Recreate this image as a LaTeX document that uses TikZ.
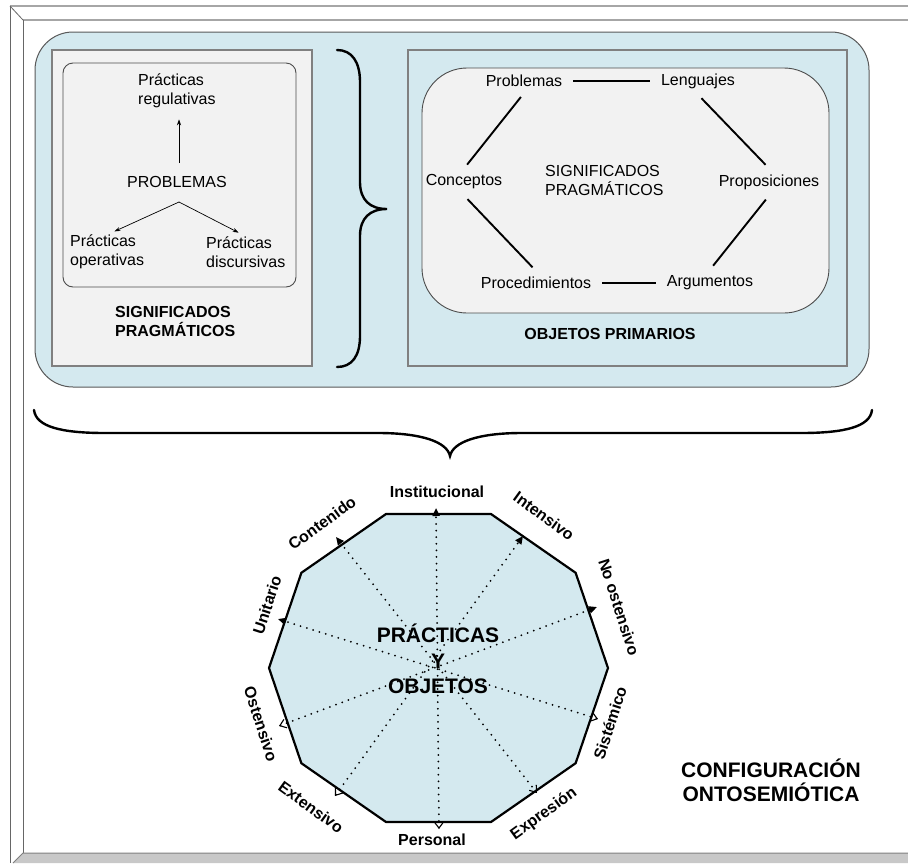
\documentclass[tikz,border=0pt]{standalone}
\usepackage{fontspec}
\setmainfont{Liberation Sans}
\usetikzlibrary{arrows.meta}
\definecolor{boxblue}{HTML}{D4E9EF}
\definecolor{boxgray}{HTML}{F2F2F2}
\definecolor{bandgray}{HTML}{C8C8C8}
\tikzset{
  fillv/.tip={Triangle[length=8pt,width=7pt]},
  openv/.tip={Straight Barb[length=6pt,width=9pt,line width=1.1pt]},
}
\begin{document}
\begin{tikzpicture}[x=1pt,y=-1pt,
  txt/.style={font=\fontsize{16}{19}\selectfont, inner sep=6pt},
  ltxt/.style={font=\fontsize{16}{19}\selectfont, align=left, inner sep=0pt},
  btxt/.style={font=\bfseries\fontsize{16}{19}\selectfont, align=left, inner sep=0pt},
  lbl/.style={font=\bfseries\fontsize{16}{19}\selectfont, inner sep=0pt},
  big/.style={font=\bfseries\fontsize{21}{25.5}\selectfont, align=center, inner sep=0pt},
  link/.style={line width=1.9pt, shorten <=5pt, shorten >=5pt},
  thinarrow/.style={-{Stealth[length=6pt,width=4pt]}, line width=0.7pt},
  ray/.style={line width=2pt, line cap=round, dash pattern=on 0pt off 6.6pt},
  bracestyle/.style={line width=2.4pt, line cap=round},
]
\useasboundingbox (0,0) rectangle (908,863);
% frame
\fill[white] (0,0) rectangle (908,863);
\draw[gray!70, line width=1.2pt] (908,6) -- (10,6);
\draw[gray!70, line width=1.2pt] (908,20) -- (23,20);
\draw[black!60, line width=1pt] (10,6) -- (10,863);
\draw[black!60, line width=1pt] (23,20) -- (23,853);
\draw[black!60, line width=0.8pt] (10,6) -- (23,20);
\fill[bandgray] (23,853) -- (908,853) -- (908,863) -- (13,863) -- cycle;
\draw[black!50, line width=1pt] (13,863) -- (23,853) -- (908,853);

% big blue panel
\draw[black!65, fill=boxblue, line width=1pt, rounded corners=38pt] (35,32) rectangle (869,387);

% left box
\draw[black!50, fill=boxgray, line width=1.2pt] (52,50) rectangle (312,366);
\draw[black!70, fill=boxgray, line width=0.9pt, rounded corners=10pt] (63,63) rectangle (296,287);
\node[ltxt, anchor=west] (reg) at (138,91) {Prácticas\\regulativas};
\node[ltxt] (probL) at (177,182) {PROBLEMAS};
\node[ltxt, anchor=west] (oper) at (70,252) {Prácticas\\operativas};
\node[ltxt, anchor=west] (disc) at (206,252) {Prácticas\\discursivas};
\coordinate (fork) at (179,202);
\draw[thinarrow] ([shift={(2,-13)}]probL.north) -- ([shift={(2,11)}]probL.north |- reg.south);
\draw[thinarrow, shorten >=8pt] (fork) -- (oper.north);
\draw[thinarrow, shorten >=8pt] (fork) -- (disc.north);
\node[btxt, anchor=west] (sigL) at (115,321) {SIGNIFICADOS\\PRAGMÁTICOS};

% brace between boxes
\draw[bracestyle] (337,50) .. controls (352,50) and (360,62) .. (360,82)
  -- (360,182) .. controls (360,200) and (370,209) .. (387,209)
  .. controls (370,209) and (360,218) .. (360,236)
  -- (360,336) .. controls (360,356) and (352,367) .. (337,367);

% right box
\draw[black!50, line width=1.2pt] (408,50) rectangle (847,366);
\draw[black!70, fill=boxgray, line width=0.9pt, rounded corners=45pt] (422,68) rectangle (829,313);
\node[txt] (prob) at (524,81) {Problemas};
\node[txt] (leng) at (698,81) {Lenguajes};
\node[txt] (conc) at (464,182) {Conceptos};
\node[txt] (prop) at (769,182) {Proposiciones};
\node[txt] (proc) at (536,283) {Procedimientos};
\node[txt] (arg) at (710,283) {Argumentos};
\node[ltxt, anchor=west] (sigR) at (545,180) {SIGNIFICADOS\\PRAGMÁTICOS};
\draw[link] (prob) -- (leng);
\draw[link] (prob.south) -- (conc.north);
\draw[link] (leng.south) -- (prop.north);
\draw[link] (conc.south) -- (proc.north);
\draw[link] (prop.south) -- (arg.north);
\draw[link] (proc) -- (arg);
\node[btxt] (objp) at (610,334) {OBJETOS PRIMARIOS};

% bottom brace
\draw[bracestyle] (34,410) .. controls (36,427) and (62,433) .. (105,433)
  -- (378,433) .. controls (422,433) and (447,442) .. (450,456)
  .. controls (453,442) and (478,433) .. (522,433)
  -- (801,433) .. controls (844,433) and (870,427) .. (872,410);

% decagon
\draw[line width=2.2pt, fill=boxblue, line join=miter] (608,668)
  \foreach \a in {36,72,...,324} { -- ({438.5+169.5*cos(\a)},{668-162*sin(\a)}) } -- cycle;

\coordinate (tInst) at (436,508);
\coordinate (tPers) at (439,829);
\coordinate (tCont) at (336,537);
\coordinate (tExpr) at (537,793);
\coordinate (tInte) at (523,536);
\coordinate (tExte) at (335,796);
\coordinate (tUnit) at (278,619);
\coordinate (tSist) at (598,719);
\coordinate (tNoos) at (597,607);
\coordinate (tOste) at (279,726);

\draw[ray, openv-fillv] (tPers) -- (tInst);
\draw[ray, openv-fillv] (tExpr) -- (tCont);
\draw[ray, openv-fillv] (tExte) -- (tInte);
\draw[ray, openv-fillv] (tSist) -- (tUnit);
\draw[ray, openv-fillv] (tOste) -- (tNoos);

\node[big] (po) at (438,659) {PRÁCTICAS\\Y\\OBJETOS};

\node[lbl] (lInst) at (437,492) {Institucional};
\node[lbl, rotate=-36] (lInte) at (544,516) {Intensivo};
\node[lbl, rotate=-72] (lNoos) at (619,607) {No ostensivo};
\node[lbl, rotate=72] (lSist) at (610,723) {Sistémico};
\node[lbl, rotate=36] (lExpr) at (544,814) {Expresión};
\node[lbl] (lPers) at (432,840) {Personal};
\node[lbl, rotate=-36] (lExte) at (311,807) {Extensivo};
\node[lbl, rotate=-72] (lOste) at (261,724) {Ostensivo};
\node[lbl, rotate=72] (lUnit) at (267,605) {Unitario};
\node[lbl, rotate=36] (lCont) at (322,523) {Contenido};

\node[big, font=\bfseries\fontsize{21}{24}\selectfont] (conf) at (771,780) {CONFIGURACIÓN\\ONTOSEMIÓTICA};
\end{tikzpicture}
\end{document}
